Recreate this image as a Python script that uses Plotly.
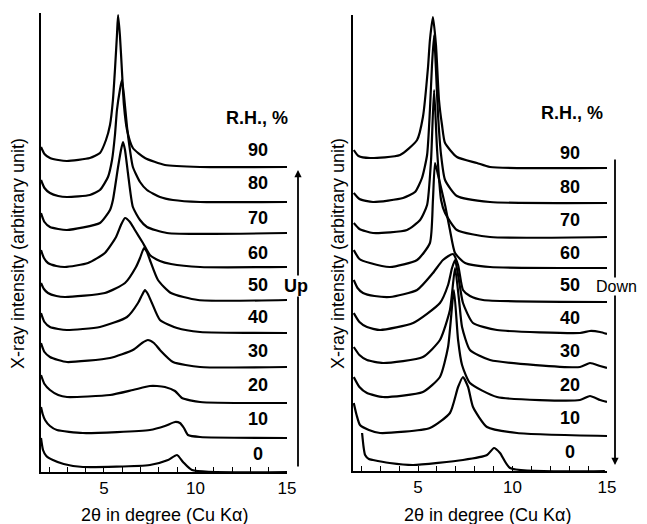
import plotly.graph_objects as go

# ---------------- data ----------------
# x: 2-theta (degree), y: intensity (arbitrary unit, stacked curves)
rh_levels = ["90", "80", "70", "60", "50", "40", "30", "20", "10", "0"]

# "Up" panel (left)
up_90_x = [1.56, 1.75, 2.05, 2.5, 2.98, 4.23, 4.78, 5.11, 5.33, 5.49, 5.60, 5.71, 5.77, 5.87, 5.98, 6.09, 6.26, 6.58, 7.24, 8.33, 10.25, 15]
up_90_y = [325, 318, 314, 312, 311, 314, 319, 332, 347, 372, 402, 437, 457, 437, 402, 367, 342, 324, 314, 307, 305, 305]
up_80_x = [1.56, 1.75, 2.05, 2.5, 2.98, 4.23, 4.78, 5.22, 5.44, 5.60, 5.71, 5.87, 5.98, 6.09, 6.26, 6.42, 6.58, 6.97, 7.35, 8.06, 8.77, 10.25, 15]
up_80_y = [292, 284, 279, 276, 275, 277, 282, 295, 312, 337, 362, 382, 392, 377, 345, 322, 305, 290, 282, 275, 272, 270, 270]
up_70_x = [1.56, 1.75, 2.05, 2.5, 2.98, 4.78, 5.33, 5.49, 5.77, 5.93, 6.04, 6.15, 6.31, 6.58, 6.97, 7.35, 8.44, 15]
up_70_y = [259, 250, 245, 243, 242, 249, 262, 272, 305, 322, 330, 322, 299, 265, 252, 245, 239, 239]
up_60_x = [1.56, 1.72, 1.94, 2.4, 2.87, 4.13, 5.05, 5.66, 5.93, 6.15, 6.42, 6.69, 7.13, 7.51, 8.06, 8.66, 10.25, 15]
up_60_y = [222, 214, 209, 206, 205, 209, 219, 235, 247, 254, 250, 242, 229, 217, 211, 208, 205, 205]
up_50_x = [1.56, 1.72, 1.94, 2.4, 2.87, 5.05, 6.15, 6.75, 6.97, 7.19, 7.35, 7.51, 7.95, 8.66, 10.14, 15]
up_50_y = [189, 183, 179, 176, 175, 179, 189, 205, 214, 224, 220, 212, 192, 179, 172, 172]
up_40_x = [1.56, 1.75, 2.05, 2.5, 2.98, 4.78, 6.26, 6.86, 7.08, 7.24, 7.40, 7.62, 8.06, 8.99, 10.25, 15]
up_40_y = [159, 150, 145, 143, 142, 145, 155, 169, 177, 182, 178, 169, 152, 144, 140, 139]
up_30_x = [1.56, 1.75, 2.05, 2.5, 2.98, 5.33, 6.58, 7.08, 7.40, 7.73, 8.06, 8.77, 10.25, 15]
up_30_y = [129, 120, 115, 112, 110, 114, 122, 129, 132, 129, 122, 110, 105, 105]
up_20_x = [1.56, 1.75, 2.05, 2.5, 2.98, 5.33, 6.58, 7.51, 7.90, 8.33, 8.88, 9.26, 10.25, 15]
up_20_y = [97, 88, 82, 77, 75, 77, 82, 86, 86, 85, 81, 74, 70, 69]
up_10_x = [1.56, 1.65, 1.78, 2.05, 2.43, 3.85, 7.51, 8.33, 8.88, 9.15, 9.37, 9.59, 10.25, 15]
up_10_y = [65, 58, 52, 46, 42, 39, 42, 46, 50, 49, 44, 37, 35, 34]
up_0_x = [1.56, 1.67, 1.85, 2.21, 2.8, 3.85, 7.51, 8.50, 8.99, 9.32, 9.81, 15]
up_0_y = [34, 22, 16, 12, 8, 5, 7, 12, 17, 10, 2, 0]

# "Down" panel (right)
dn_90_x = [1.6, 1.85, 2.46, 4.05, 4.95, 5.26, 5.53, 5.63, 5.79, 5.95, 6.11, 6.27, 6.43, 7.06, 8.12, 8.81, 15]
dn_90_y = [321, 315, 313, 316, 331, 354, 404, 431, 454, 426, 371, 346, 328, 314, 308, 304, 303]
dn_80_x = [1.6, 1.9, 2.62, 4.21, 4.84, 5.21, 5.48, 5.63, 5.74, 5.85, 5.95, 6.06, 6.22, 6.43, 7.06, 8.81, 15]
dn_80_y = [278, 272, 269, 273, 279, 293, 316, 361, 406, 436, 401, 356, 316, 291, 275, 269, 268]
dn_70_x = [1.6, 1.9, 2.62, 4.42, 5.11, 5.48, 5.69, 5.85, 6.01, 6.22, 6.43, 7.06, 8.81, 15]
dn_70_y = [248, 242, 238, 241, 251, 266, 311, 381, 321, 271, 258, 241, 234, 234]
dn_60_x = [1.6, 1.9, 2.46, 3.52, 4.95, 5.63, 5.79, 5.90, 6.06, 6.43, 6.69, 6.96, 7.49, 8.81, 15]
dn_60_y = [221, 212, 208, 204, 211, 228, 271, 308, 296, 266, 241, 218, 208, 204, 203]
dn_50_x = [1.6, 1.8, 2.09, 2.7, 3.52, 4.95, 5.79, 6.32, 6.85, 7.12, 7.38, 7.75, 8.44, 15]
dn_50_y = [191, 183, 178, 175, 174, 181, 198, 211, 217, 206, 181, 175, 171, 169]
dn_40_x = [1.6, 1.9, 2.30, 2.99, 4.74, 6.16, 6.59, 6.80, 6.96, 7.12, 7.38, 7.91, 9.18, 13.57, 14.10, 14.63, 15]
dn_40_y = [158, 149, 144, 141, 148, 168, 186, 203, 211, 196, 168, 148, 141, 138, 140, 139, 137]
dn_30_x = [1.6, 1.9, 2.30, 3.15, 5.26, 6.16, 6.69, 6.96, 7.17, 7.33, 7.75, 8.81, 13.57, 14.10, 14.63, 15]
dn_30_y = [124, 116, 111, 108, 114, 131, 161, 203, 171, 144, 121, 111, 104, 108, 105, 103]
dn_20_x = [1.6, 1.9, 2.30, 3.15, 5.26, 6.16, 6.59, 6.90, 7.12, 7.33, 7.75, 9.18, 13.57, 14.10, 14.63, 15]
dn_20_y = [94, 84, 78, 74, 79, 94, 124, 181, 131, 106, 88, 74, 71, 75, 71, 69]
dn_10_x = [1.6, 1.75, 1.93, 2.4, 2.99, 5.63, 6.69, 7.12, 7.38, 7.65, 7.91, 8.65, 10.24, 15]
dn_10_y = [68, 56, 46, 41, 38, 43, 58, 84, 94, 84, 64, 44, 38, 35]
dn_0_x = [2.04, 2.12, 2.20, 2.4, 2.62, 3.5, 4.74, 7.38, 8.65, 9.02, 9.34, 9.87, 14.89]
dn_0_y = [38, 24, 16, 12, 11, 8, 6, 11, 16, 23, 18, 3, 0]

tick_vals = [2, 3, 4, 5, 6, 7, 8, 9, 10, 11, 12, 13, 14, 15]
tick_text = ["", "", "", "5", "", "", "", "", "10", "", "", "", "", "15"]

x_title = "2θ in degree (Cu Kα)"
y_title = "X-ray intensity (arbitrary unit)"

up_curves = [(up_90_x, up_90_y), (up_80_x, up_80_y), (up_70_x, up_70_y), (up_60_x, up_60_y),
             (up_50_x, up_50_y), (up_40_x, up_40_y), (up_30_x, up_30_y), (up_20_x, up_20_y),
             (up_10_x, up_10_y), (up_0_x, up_0_y)]
dn_curves = [(dn_90_x, dn_90_y), (dn_80_x, dn_80_y), (dn_70_x, dn_70_y), (dn_60_x, dn_60_y),
             (dn_50_x, dn_50_y), (dn_40_x, dn_40_y), (dn_30_x, dn_30_y), (dn_20_x, dn_20_y),
             (dn_10_x, dn_10_y), (dn_0_x, dn_0_y)]

# label positions (layout)
up_label_x = 13.42
up_label_y = [322, 289, 254, 219, 187, 155, 121, 87, 53, 18]
dn_label_x = 13.04
dn_label_y = [318, 284, 251, 218, 186, 153, 120, 86, 53, 19]

# page has an 8px body margin: figure occupies window pixels 8..647 / 8..524
OFF = 8
W, H = 647 - OFF, 524 - OFF
FONT = "Liberation Sans, Arial, Helvetica, sans-serif"

fig = go.Figure()
for (xs, ys), rh in zip(up_curves, rh_levels):
    fig.add_trace(go.Scatter(x=xs, y=ys, mode="lines", name=f"Up {rh}%",
                             line=dict(color="black", width=2.2, shape="spline", smoothing=0.55),
                             xaxis="x", yaxis="y", showlegend=False, hoverinfo="skip"))
for (xs, ys), rh in zip(dn_curves, rh_levels):
    fig.add_trace(go.Scatter(x=xs, y=ys, mode="lines", name=f"Down {rh}%",
                             line=dict(color="black", width=2.2, shape="spline", smoothing=0.55),
                             xaxis="x2", yaxis="y2", showlegend=False, hoverinfo="skip"))

def px_x(p):
    return (p - OFF) / W

def px_y(p):
    return 1 - (p - OFF) / H

xcommon = dict(range=[1.56, 15], showline=True, linecolor="black", linewidth=1.5,
               showgrid=False, zeroline=False, ticks="inside", ticklen=5, tickwidth=1.2,
               tickcolor="black", tickvals=tick_vals, ticktext=tick_text, automargin=False,
               tickfont=dict(family=FONT, size=17, color="black"), fixedrange=True)
ycommon = dict(showline=True, linecolor="black", linewidth=1.5, showgrid=False, automargin=False,
               zeroline=False, showticklabels=False, ticks="", fixedrange=True)

fig.update_layout(
    width=W, height=H, margin=dict(l=0, r=0, t=0, b=0, autoexpand=False),
    paper_bgcolor="white", plot_bgcolor="white", showlegend=False,
    xaxis=dict(domain=[px_x(41), px_x(287)], anchor="y", **xcommon),
    yaxis=dict(domain=[px_y(472), px_y(13)], range=[0, 459], anchor="x", **ycommon),
    xaxis2=dict(domain=[px_x(353), px_x(607)], anchor="y2", **xcommon),
    yaxis2=dict(domain=[px_y(471), px_y(15)], range=[0, 456], anchor="x2", **ycommon),
)

ann = []
lab_font = dict(family=FONT, size=18, color="black")
C = dict(xanchor="center", yanchor="middle", showarrow=False)
for rh, yy in zip(rh_levels, up_label_y):
    ann.append(dict(x=up_label_x, y=yy, xref="x", yref="y", text=f"<b>{rh}</b>", font=lab_font, **C))
for rh, yy in zip(rh_levels, dn_label_y):
    ann.append(dict(x=dn_label_x, y=yy, xref="x2", yref="y2", text=f"<b>{rh}</b>", font=lab_font, **C))
ann.append(dict(x=13.37, y=354, xref="x", yref="y", text="<b>R.H., %</b>",
                font=dict(family=FONT, size=18, color="black"), **C))
ann.append(dict(x=13.15, y=358, xref="x2", yref="y2", text="<b>R.H., %</b>",
                font=dict(family=FONT, size=18, color="black"), **C))

# direction arrows
ann.append(dict(x=px_x(298), y=px_y(170), xref="paper", yref="paper", ax=0, ay=298,
                text="", showarrow=True, arrowhead=2,
                arrowsize=0.8, arrowwidth=1.8, arrowcolor="black"))
ann.append(dict(x=px_x(615), y=px_y(465), xref="paper", yref="paper", ax=0, ay=-307,
                text="", showarrow=True, arrowhead=2, arrowsize=0.8, arrowwidth=1.8,
                arrowcolor="black"))
ann.append(dict(x=px_x(296), y=px_y(286), xref="paper", yref="paper", text="<b>Up</b>",
                bgcolor="white", borderpad=0, font=dict(family=FONT, size=18, color="black"), **C))
ann.append(dict(x=px_x(616), y=px_y(286), xref="paper", yref="paper", text="Down",
                bgcolor="white", borderpad=0, font=dict(family=FONT, size=16, color="black"), **C))

# axis titles
ann.append(dict(x=px_x(18), y=px_y(254), xref="paper", yref="paper", text=y_title, textangle=-90,
                font=dict(family=FONT, size=18, color="black"), **C))
ann.append(dict(x=px_x(338), y=px_y(254), xref="paper", yref="paper", text=y_title, textangle=-90,
                font=dict(family=FONT, size=18, color="black"), **C))
ann.append(dict(x=px_x(165), y=px_y(515), xref="paper", yref="paper", text=x_title,
                font=dict(family=FONT, size=18, color="black"), **C))
ann.append(dict(x=px_x(488), y=px_y(515), xref="paper", yref="paper", text=x_title,
                font=dict(family=FONT, size=18, color="black"), **C))

fig.update_layout(annotations=ann)
fig.write_html("out.html")
